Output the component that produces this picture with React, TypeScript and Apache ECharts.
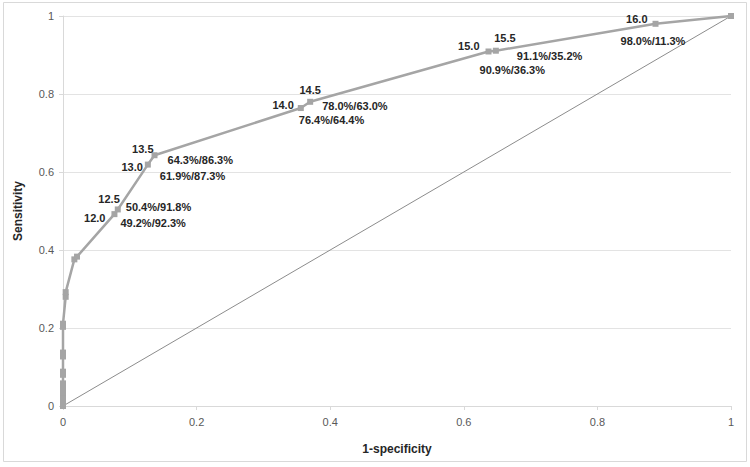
import React, { useEffect, useRef } from "react";
import * as echarts from "echarts";

// ROC curve points: [1-specificity, sensitivity]
const rocX = [0, 0, 0, 0, 0, 0, 0, 0, 0, 0, 0, 0, 0, 0, 0.004, 0.004, 0.017, 0.021, 0.077, 0.082, 0.127, 0.137, 0.356, 0.370, 0.637, 0.648, 0.887, 1];
const rocY = [0, 0.008, 0.017, 0.025, 0.034, 0.042, 0.05, 0.058, 0.08, 0.088, 0.127, 0.137, 0.203, 0.211, 0.28, 0.292, 0.376, 0.383, 0.492, 0.504, 0.619, 0.643, 0.764, 0.780, 0.909, 0.911, 0.980, 1];

// Labelled cut-off points
const cutoffs = ["12.0", "12.5", "13.0", "13.5", "14.0", "14.5", "15.0", "15.5", "16.0"];
const cutX = [0.077, 0.082, 0.127, 0.137, 0.356, 0.370, 0.637, 0.648, 0.887];
const cutY = [0.492, 0.504, 0.619, 0.643, 0.764, 0.780, 0.909, 0.911, 0.980];
const sensSpec = ["49.2%/92.3%", "50.4%/91.8%", "61.9%/87.3%", "64.3%/86.3%", "76.4%/64.4%", "78.0%/63.0%", "90.9%/36.3%", "91.1%/35.2%", "98.0%/11.3%"];

const xTicks = [0, 0.2, 0.4, 0.6, 0.8, 1];
const yTicks = [0, 0.2, 0.4, 0.6, 0.8, 1];

// label layout (styling, not data)
const cutLabelLayout: [string, number, number][] = [
  ["right", -9, 4],
  ["right", 2, -10],
  ["right", -5, 2],
  ["right", -1, -6],
  ["right", -7, -3],
  ["center", 0, -12],
  ["right", -9, -5],
  ["center", 9, -13],
  ["right", -8, -5],
];
const pctLabelLayout: [number, number][] = [
  [6, 9],
  [8, -2],
  [12, 11],
  [13, 5],
  [-2, 12],
  [12, 4],
  [-9, 19],
  [21, 5],
  [-35, 17],
];

const FONT = "'Liberation Sans', Arial, sans-serif";
const GREY = "#a5a5a5";

export default function App() {
  const ref = useRef<HTMLDivElement>(null);
  useEffect(() => {
    if (!ref.current) return;
    const chart = echarts.init(ref.current, undefined, { renderer: "svg" });
    const labelStyle = {
      color: "#262626",
      fontFamily: FONT,
      fontWeight: "bold",
      fontSize: 11,
      textBorderWidth: 0,
    };
    const rocData = rocX.map((x, i) => [x, rocY[i]]);
    const cutIndex = (x: number, y: number) => cutX.findIndex((cx, k) => cx === x && cutY[k] === y);
    const mainData = rocData.map(([x, y]) => {
      const k = cutIndex(x, y);
      if (k < 0) return { value: [x, y] };
      const [align, dx, dy] = cutLabelLayout[k];
      return {
        value: [x, y],
        label: {
          show: true,
          ...labelStyle,
          formatter: cutoffs[k],
          position: "inside",
          align,
          verticalAlign: "middle",
          offset: [dx, dy],
        },
      };
    });
    const pctData = cutX.map((x, k) => ({
      value: [x, cutY[k]],
      label: {
        show: true,
        ...labelStyle,
        formatter: sensSpec[k],
        position: "inside",
        align: "left",
        verticalAlign: "middle",
        offset: pctLabelLayout[k],
      },
    }));
    chart.setOption({
      animation: false,
      backgroundColor: "#ffffff",
      textStyle: { fontFamily: FONT },
      graphic: [
        {
          type: "rect",
          shape: { x: 3.5, y: 2.5, width: 743, height: 459 },
          style: { fill: "none", stroke: "#d9d9d9", lineWidth: 1 },
          silent: true,
          z: -1,
        },
      ],
      grid: { left: 63, right: 19, top: 16, bottom: 61, containLabel: false },
      xAxis: {
        type: "value",
        min: xTicks[0],
        max: xTicks[xTicks.length - 1],
        interval: 0.2,
        name: "1-specificity",
        nameLocation: "middle",
        nameGap: 37,
        nameTextStyle: { fontFamily: FONT, fontWeight: "bold", fontSize: 12, color: "#262626" },
        axisLine: { show: true, lineStyle: { color: "#d9d9d9", width: 1 } },
        axisTick: { show: true, length: 4, lineStyle: { color: "#d9d9d9" } },
        axisLabel: { color: "#595959", fontSize: 11, margin: 10, fontFamily: FONT },
        splitLine: { show: false },
      },
      yAxis: {
        type: "value",
        min: yTicks[0],
        max: yTicks[yTicks.length - 1],
        interval: 0.2,
        name: "Sensitivity",
        nameLocation: "middle",
        nameGap: 39,
        nameRotate: 90,
        nameTextStyle: { fontFamily: FONT, fontWeight: "bold", fontSize: 12, color: "#262626" },
        axisLine: { show: true, lineStyle: { color: "#d9d9d9", width: 1 } },
        axisTick: { show: true, length: 4, lineStyle: { color: "#d9d9d9" } },
        axisLabel: { color: "#595959", fontSize: 11, margin: 9, fontFamily: FONT },
        splitLine: { show: true, lineStyle: { color: "#e3e3e3", width: 1 } },
      },
      series: [
        {
          type: "line",
          name: "reference",
          data: [
            [0, 0],
            [1, 1],
          ],
          symbol: "none",
          lineStyle: { color: "#8c8c8c", width: 1 },
          silent: true,
          z: 1,
        },
        {
          type: "line",
          name: "ROC",
          data: mainData,
          symbol: "rect",
          symbolSize: 6,
          showAllSymbol: true,
          itemStyle: { color: GREY },
          lineStyle: { color: GREY, width: 2.5 },
          label: { show: false, ...labelStyle },
          z: 2,
        },
        {
          type: "scatter",
          name: "pct",
          data: pctData,
          symbolSize: 1,
          itemStyle: { color: "rgba(0,0,0,0)", opacity: 1 },
          label: { ...labelStyle },
          emphasis: { disabled: true },
          silent: true,
          z: 3,
        },
      ],
    });
    return () => chart.dispose();
  }, []);
  return (
    <div
      ref={ref}
      style={{ position: "absolute", left: 0, top: 0, width: 750, height: 467 }}
    />
  );
}
